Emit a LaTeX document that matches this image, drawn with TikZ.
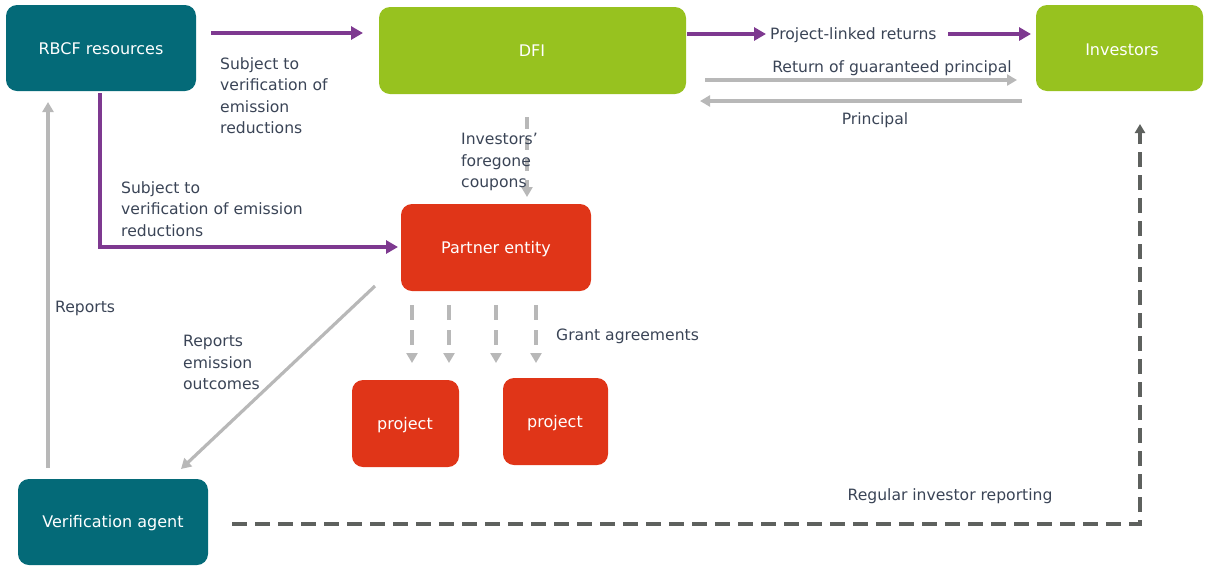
\documentclass[tikz,border=0pt]{standalone}
\usepackage{fontspec}
\setmainfont{DejaVu Sans}
\usetikzlibrary{arrows.meta}
\definecolor{teal}{HTML}{046A78}
\definecolor{lime}{HTML}{97C21F}
\definecolor{redbox}{HTML}{E03518}
\definecolor{purp}{HTML}{7E3990}
\definecolor{lgray}{HTML}{B8B8B8}
\definecolor{dgray}{HTML}{5E615E}
\definecolor{txt}{HTML}{3A4456}
\tikzset{
  box/.style={inner sep=0pt, text=white, font=\fontsize{16}{18}\selectfont},
  lbl/.style={text=txt, font=\fontsize{15.6}{21.5}\selectfont, inner sep=0pt, align=left},
  purparrow/.style={draw=purp, line width=3.6pt, -{Triangle[length=12pt,width=13pt]}},
  grayarrow/.style={draw=lgray, line width=3.2pt, -{Triangle[length=10pt,width=11pt]}},
  graydash/.style={grayarrow, dash pattern=on 12pt off 9pt},
  darkdash/.style={draw=dgray, line width=3.4pt, dash pattern=on 15pt off 8pt, -{Triangle[length=9pt,width=10pt]}}
}
\begin{document}
\begin{tikzpicture}[x=1pt,y=-1pt]
\useasboundingbox (0,0) rectangle (1213,566);

% boxes
\fill[teal, rounded corners=11pt] (6,5) rectangle (196,91);
\node[box] (rbcf) at (101,49) {RBCF resources};
\fill[lime, rounded corners=11pt] (379,7) rectangle (686,94);
\node[box] (dfi) at (532,51) {DFI};
\fill[lime, rounded corners=11pt] (1036,5) rectangle (1203,91);
\node[box] (inv) at (1122,50) {Investors};
\fill[redbox, rounded corners=11pt] (401,204) rectangle (591,291);
\node[box] (partner) at (496,249) {Partner entity};
\fill[redbox, rounded corners=11pt] (352,380) rectangle (459,467);
\node[box] (proj1) at (405,425) {project};
\fill[redbox, rounded corners=11pt] (503,378) rectangle (608,465);
\node[box] (proj2) at (555,423) {project};
\fill[teal, rounded corners=11pt] (18,479) rectangle (208,565);
\node[box] (agent) at (113,523) {Verification agent};

% anchor points of connectors
\coordinate (a1) at (211,33);   \coordinate (a2) at (363,33);
\coordinate (b1) at (687,34);   \coordinate (b2) at (766,34);
\coordinate (b3) at (948,34);   \coordinate (b4) at (1031,34);
\coordinate (c1) at (705,80);   \coordinate (c2) at (1017,80);
\coordinate (d1) at (1022,101); \coordinate (d2) at (700,101);
\coordinate (e1) at (100,93);   \coordinate (e2) at (100,247); \coordinate (e3) at (398,247);
\coordinate (f1) at (527,117);  \coordinate (f2) at (527,197);
\coordinate (g1) at (375,286);  \coordinate (g2) at (181,469);
\coordinate (h1) at (48,468);   \coordinate (h2) at (48,102);
\coordinate (k1) at (232,524);  \coordinate (k2) at (1140,524); \coordinate (k3) at (1140,124);

% connectors
\draw[purparrow] (a1) -- (a2);
\draw[purparrow] (b1) -- (b2);
\draw[purparrow] (b3) -- (b4);
\draw[grayarrow] (c1) -- (c2);
\draw[grayarrow] (d1) -- (d2);
\draw[purparrow] (e1) -- (e2) -- (e3);
\draw[graydash] (f1) -- (f2);
\foreach \x/\n in {412/p1,449/p2,496/p3,536/p4}{
  \coordinate (\n s) at (\x,305);
  \coordinate (\n e) at (\x,363);
  \draw[graydash, line width=3.6pt, dash pattern=on 15pt off 10pt] (\n s) -- (\n e);
}
\draw[grayarrow] (g1) -- (g2);
\draw[grayarrow] (h1) -- (h2);
\draw[darkdash] (k1) -- (k2) -- (k3);

% labels
\node[lbl, anchor=north west] (l1) at (220,57) {Subject to\\verification of\\emission\\reductions};
\node[lbl, anchor=west] (l2) at (770,35) {Project-linked returns};
\node[lbl] (l3) at (892,68) {Return of guaranteed principal};
\node[lbl] (l4) at (875,120) {Principal};
\node[lbl, anchor=north west] (l5) at (121,181) {Subject to\\verification of emission\\reductions};
\node[lbl, anchor=north west] (l6) at (461,133) {Investors’\\foregone\\coupons};
\node[lbl, anchor=west] (l7) at (556,336) {Grant agreements};
\node[lbl, anchor=north west] (l8) at (183,335) {Reports\\emission\\outcomes};
\node[lbl, anchor=west] (l9) at (55,308) {Reports};
\node[lbl] (l10) at (950,496) {Regular investor reporting};
\end{tikzpicture}
\end{document}
